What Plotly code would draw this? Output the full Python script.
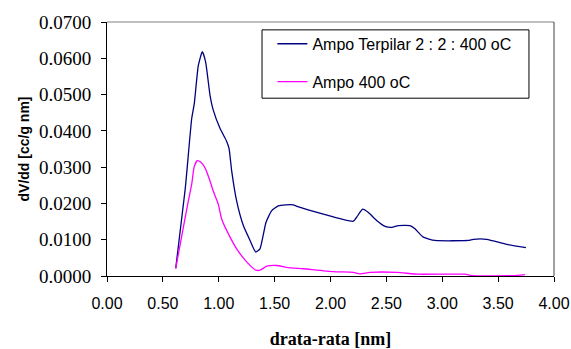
import plotly.graph_objects as go

# ---- data ----
x_terpilar = [0.615, 0.700, 0.758, 0.781, 0.817, 0.853, 0.883, 0.922, 0.951, 1.011,
              1.071, 1.092, 1.116, 1.160, 1.220, 1.280, 1.331, 1.369, 1.423, 1.474,
              1.533, 1.600, 1.667, 1.700, 2.204, 2.234, 2.288, 2.339, 2.413, 2.488,
              2.548, 2.607, 2.711, 2.756, 2.831, 2.935, 3.233, 3.278, 3.398, 3.577,
              3.749]
y_terpilar = [0.0021, 0.0240, 0.0434, 0.0475, 0.0580, 0.0618, 0.0589, 0.0498, 0.0457, 0.0407,
              0.0371, 0.0352, 0.0289, 0.0207, 0.0139, 0.0098, 0.0066, 0.0075, 0.0148, 0.0180,
              0.0193, 0.0196, 0.0196, 0.0192, 0.0151, 0.0162, 0.0184, 0.0175, 0.0153, 0.0137,
              0.0134, 0.0139, 0.0139, 0.0130, 0.0107, 0.0098, 0.0098, 0.0101, 0.0101, 0.0087,
              0.0078]

x_ampo = [0.615, 0.683, 0.728, 0.758, 0.781, 0.808, 0.838, 0.877, 0.922, 0.951,
          0.996, 1.026, 1.101, 1.160, 1.250, 1.333, 1.369, 1.429, 1.518, 1.608,
          1.757, 2.025, 2.204, 2.264, 2.354, 2.593, 2.786, 3.203, 3.263, 3.636,
          3.741]
y_ampo = [0.0021, 0.0134, 0.0207, 0.0253, 0.0302, 0.0318, 0.0314, 0.0298, 0.0262, 0.0234,
          0.0198, 0.0157, 0.0107, 0.0075, 0.0039, 0.0016, 0.0016, 0.0027, 0.0029, 0.0024,
          0.0020, 0.0012, 0.0010, 0.0006, 0.0010, 0.0010, 0.0005, 0.0005, 0.0001, 0.0001,
          0.0004]

name_terpilar = "Ampo Terpilar 2 : 2 : 400 oC"
name_ampo = "Ampo 400 oC"
x_title = "drata-rata [nm]"
y_title = "dV/dd [cc/g nm]"

SERIF = "Liberation Serif, Times New Roman, serif"
SANS = "Liberation Sans, Arial, sans-serif"

fig = go.Figure()
fig.add_trace(go.Scatter(x=x_terpilar, y=y_terpilar, mode="lines",
                         name=name_terpilar, legendgroup="a",
                         line=dict(color="#000080", width=1.3, shape="spline", smoothing=0.5)))
fig.add_trace(go.Scatter(x=x_ampo, y=y_ampo, mode="lines", name=name_ampo,
                         legendgroup="b",
                         line=dict(color="#FF00FF", width=1.3, shape="spline", smoothing=0.5)))

fig.update_layout(
    width=571, height=349,
    margin=dict(l=107, r=17, t=19, b=73),
    paper_bgcolor="white", plot_bgcolor="white",
    showlegend=True,
    legend=dict(x=0.37, y=0.981, xanchor="left", yanchor="top",
                borderwidth=0, bgcolor="rgba(0,0,0,0)",
                font=dict(family=SANS, size=16, color="black"),
                traceorder="grouped", tracegroupgap=14, itemwidth=30),
    xaxis=dict(range=[0, 4], dtick=0.5, tick0=0, tickformat=".2f",
               showgrid=False, zeroline=False, automargin=False,
               showline=True, linecolor="black", linewidth=1,
               ticks="outside", ticklen=5, tickcolor="black",
               ticklabelstandoff=8,
               tickfont=dict(family=SANS, size=16, color="black"),
               title=dict(text=x_title, standoff=24,
                          font=dict(family=SERIF, size=18,
                                    color="black", weight="bold"))),
    yaxis=dict(range=[0, 0.07], dtick=0.01, tick0=0, tickformat=".4f",
               showgrid=False, zeroline=False, automargin=True,
               showline=True, linecolor="black", linewidth=1,
               ticks="outside", ticklen=5, tickcolor="black",
               ticklabelstandoff=6,
               tickfont=dict(family=SERIF, size=19, color="black"),
               title=dict(text=y_title, standoff=6,
                          font=dict(family=SANS, size=14,
                                    color="black", weight="bold"))),
    shapes=[
        dict(type="line", xref="paper", yref="paper", x0=0, x1=1, y0=1, y1=1,
             line=dict(color="#808080", width=1)),
        dict(type="line", xref="paper", yref="paper", x0=1, x1=1, y0=0, y1=1,
             line=dict(color="#404040", width=1)),
        # legend frame
        dict(type="rect", xref="paper", yref="paper",
             x0=0.3468, x1=0.944, y0=0.700, y1=0.969,
             line=dict(color="black", width=1), fillcolor="white", layer="below"),
    ],
)

fig.write_html("out.html", config={"displayModeBar": False},
               post_script="document.body.style.margin='0';")
